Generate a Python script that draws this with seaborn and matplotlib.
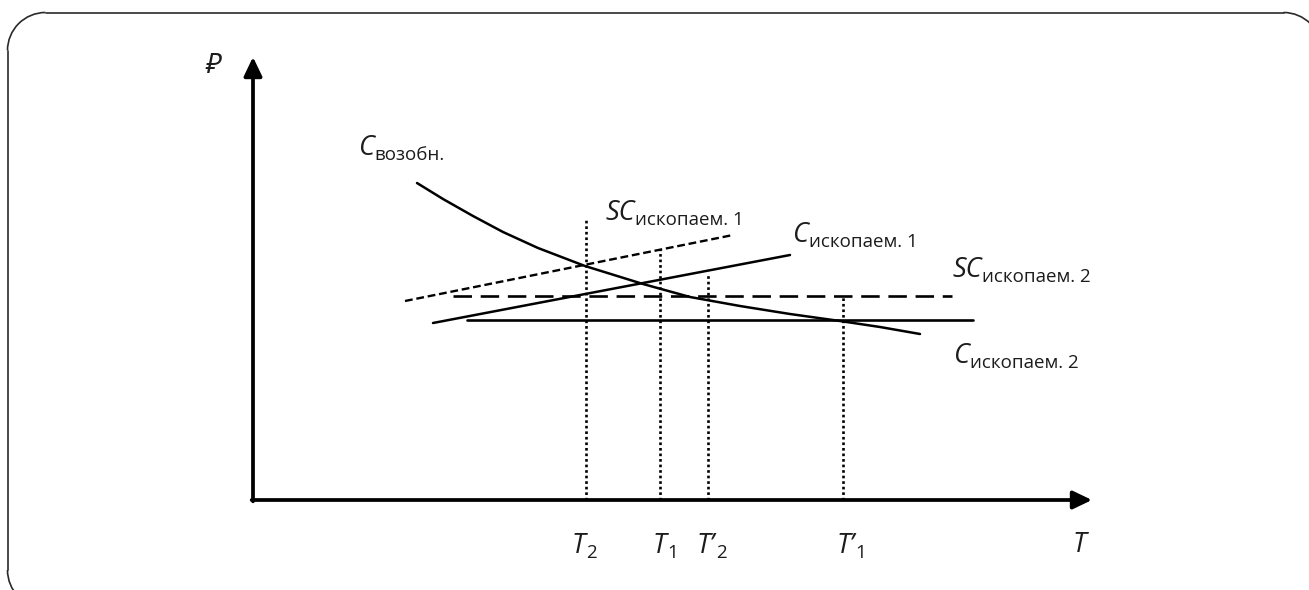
import matplotlib
matplotlib.use("Agg")
import matplotlib.pyplot as plt
from matplotlib.patches import Arc
import seaborn as sns

# --- DATA (T along x, P along y, origin in the corner of the axes) ---
renew_T = [164, 190, 220, 250, 285, 332, 390, 437, 487, 537, 587, 627, 667]
renew_P = [317, 301, 284, 268, 252, 234, 216, 203, 194, 186, 179, 173, 166]

fossil1_T = [180, 537]
fossil1_P = [177, 245]
social1_T = [152, 480]
social1_P = [199, 265]

fossil2_T = [214, 720]
fossil2_P = [180, 180]
social2_T = [200, 699]
social2_P = [204, 204]

# dotted drop lines: T2, T1, T'2, T'1
cross_T = [333, 407, 455, 590]
cross_P = [280, 251, 225, 204]
cross_main = ["T", "T", "T\u2019", "T\u2019"]
cross_sub = ["2", "1", "2", "1"]

axis_T_end = 839
axis_P_end = 443

# --- STYLE ---
sns.set_style("white")
plt.rcParams["font.family"] = ["Open Sans", "Noto Sans", "DejaVu Sans"]
INK = "#1c1c1c"

fig = plt.figure(figsize=(13.09, 5.9), dpi=100)
ax = fig.add_axes([0, 0, 1, 1])
ax.set_xlim(-253, 1056)
ax.set_ylim(-90, 500)
ax.axis("off")

# rounded frame round the page; right and bottom sides run off the page
fl, ft, fr, fb, rad = -245.5, 487.5, 1068.5, -108, 38
frame_kw = dict(color="#2a2a2a", lw=1.2)
ax.plot([fl + rad, fr - rad], [ft, ft], **frame_kw)
ax.plot([fl, fl], [ft - rad, fb + rad], **frame_kw)
for cx, cy, a0, a1 in [(fl + rad, ft - rad, 90, 180),
                       (fr - rad, ft - rad, 0, 90),
                       (fl + rad, fb + rad, 180, 270)]:
    ax.add_patch(Arc((cx, cy), 2 * rad, 2 * rad, theta1=a0, theta2=a1,
                     ec="#2a2a2a", lw=1.2))

# axes with arrows
arrow = dict(arrowstyle="-|>,head_length=1.15,head_width=0.55",
             lw=2.7, color="black", shrinkA=0, shrinkB=0)
ax.annotate("", xy=(0, axis_P_end), xytext=(0, -1.3), arrowprops=arrow)
ax.annotate("", xy=(axis_T_end, 0), xytext=(-1.3, 0), arrowprops=arrow)

# curves
sns.lineplot(x=renew_T, y=renew_P, sort=False, estimator=None,
             color="black", lw=1.8, ax=ax)
sns.lineplot(x=fossil1_T, y=fossil1_P, sort=False, estimator=None,
             color="black", lw=1.8, ax=ax)
sns.lineplot(x=fossil2_T, y=fossil2_P, sort=False, estimator=None,
             color="black", lw=1.9, ax=ax)
sns.lineplot(x=social1_T, y=social1_P, sort=False, estimator=None,
             color="black", lw=1.7, linestyle=(0, (3.3, 1.6)), ax=ax)
sns.lineplot(x=social2_T, y=social2_P, sort=False, estimator=None,
             color="black", lw=1.9, linestyle=(0, (7, 3.3)), ax=ax)

for t, p in zip(cross_T, cross_P):
    sns.lineplot(x=[t, t], y=[0, p], sort=False, estimator=None,
                 color="black", lw=1.9, linestyle=(0, (1, 1.1)), ax=ax)


def label(x, y, main, sub, size=19.5, sub_size=13.5):
    txt = ax.text(x, y, main, fontsize=size, style="italic",
                  ha="left", va="baseline", color=INK)
    ax.annotate(sub, xy=(1, 0), xycoords=txt, xytext=(0.5, -1.5),
                textcoords="offset points", fontsize=sub_size,
                ha="left", va="bottom", color=INK)


label(105, 345, "C", "возобн.")
label(352, 280, "SC", "ископаем. 1")
label(539, 258, "C", "ископаем. 1")
label(699, 223, "SC", "ископаем. 2")
label(700, 137, "C", "ископаем. 2")

tick_left = [319, 400, 444, 584]
for x, m, s in zip(tick_left, cross_main, cross_sub):
    label(x, -53, m, s)

ax.text(820, -52, "T", fontsize=19.5, style="italic", ha="left",
        va="baseline", color=INK)
ax.text(-48, 427, "\u20bd", fontsize=19, style="italic", ha="left",
        va="baseline", color=INK)

fig.savefig("out.png", dpi=100)
